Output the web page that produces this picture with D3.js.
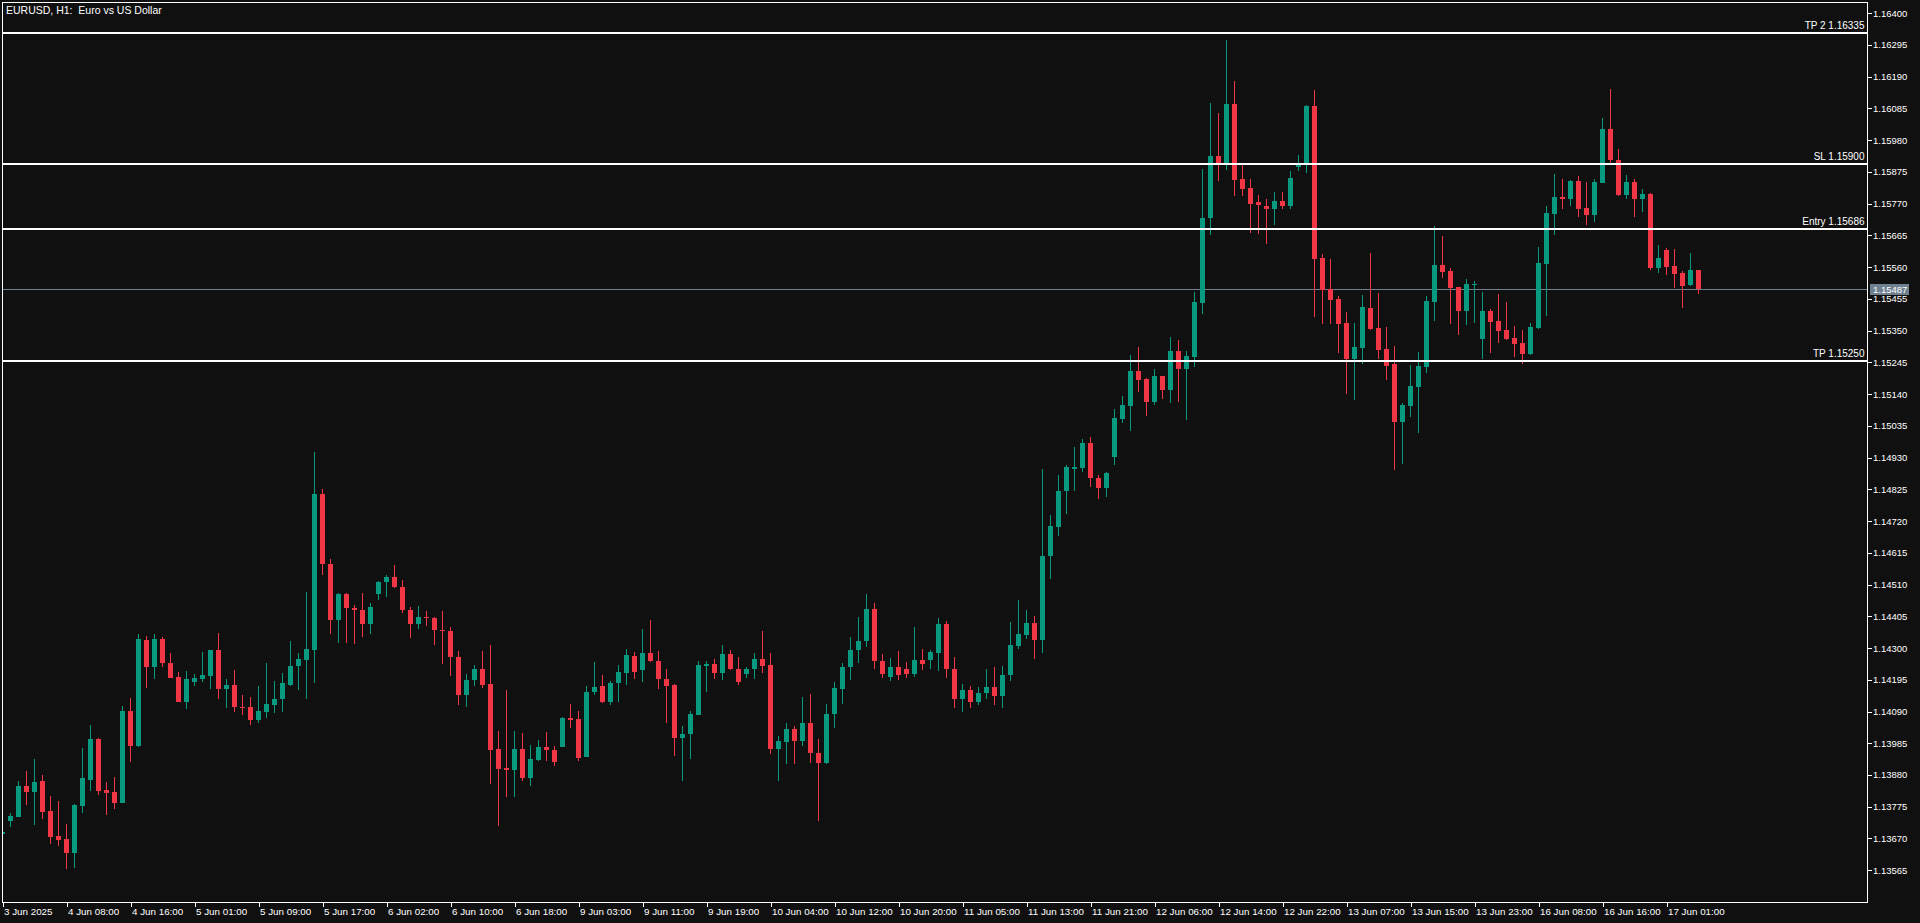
<!DOCTYPE html>
<html>
<head>
<meta charset="utf-8">
<script src="https://cdn.jsdelivr.net/npm/d3@7"></script>
<style>
  html, body { margin: 0; padding: 0; background: #101010; overflow: hidden; }
  svg { display: block; }
  text { font-family: "Liberation Sans", Arial, sans-serif; fill: #ffffff; }
</style>
</head>
<body>
<svg id="chart" width="1920" height="923"></svg>
<script>
// ---------------- DATA ----------------
const title = "EURUSD, H1:  Euro vs US Dollar";

const opens = [
1.13685,1.13729,1.13742,1.13843,1.13825,1.13860,1.13760,1.13678,1.13668,1.13622,
1.13778,1.13864,1.14000,1.13830,1.13824,1.13788,1.14092,1.13977,1.14327,1.14236,
1.14331,1.14251,1.14205,1.14123,1.14186,1.14199,1.14209,1.14294,1.14166,1.14178,
1.14106,1.14105,1.14063,1.14090,1.14113,1.14130,1.14179,1.14239,1.14262,1.14295,
1.14808,1.14579,1.14392,1.14480,1.14434,1.14427,1.14378,1.14478,1.14517,1.14536,
1.14503,1.14427,1.14378,1.14404,1.14400,1.14360,1.14357,1.14271,1.14143,1.14195,
1.14231,1.14181,1.13966,1.13903,1.13895,1.13966,1.13871,1.13931,1.13973,1.13963,
1.13974,1.14069,1.14066,1.13941,1.14153,1.14175,1.14120,1.14183,1.14219,1.14274,
1.14226,1.14284,1.14258,1.14198,1.14178,1.14004,1.14014,1.14079,1.14242,1.14248,
1.14219,1.14281,1.14231,1.14213,1.14229,1.14264,1.14245,1.13967,1.13990,1.14032,
1.13994,1.14052,1.13953,1.13921,1.14083,1.14166,1.14236,1.14292,1.14322,1.14430,
1.14258,1.14205,1.14238,1.14232,1.14215,1.14261,1.14261,1.14284,1.14380,1.14230,
1.14130,1.14160,1.14120,1.14150,1.14170,1.14140,1.14210,1.14307,1.14344,1.14384,
1.14327,1.14603,1.14702,1.14818,1.14891,1.14894,1.14977,1.14864,1.14828,1.14931,
1.15057,1.15100,1.15216,1.15189,1.15113,1.15199,1.15153,1.15282,1.15224,1.15262,
1.15442,1.15721,1.15929,1.15897,1.16101,1.15852,1.15822,1.15774,1.15763,1.15754,
1.15780,1.15761,1.15890,1.15897,1.16094,1.15591,1.15488,1.15455,1.15375,1.15256,
1.15293,1.15425,1.15358,1.15289,1.15239,1.15048,1.15101,1.15164,1.15230,1.15446,
1.15567,1.15547,1.15494,1.15416,1.15502,1.15323,1.15415,1.15382,1.15352,1.15325,
1.15309,1.15273,1.15359,1.15572,1.15735,1.15793,1.15784,1.15846,1.15756,1.15731,
1.15840,1.16017,1.15916,1.15800,1.15842,1.15784,1.15803,1.15558,1.15617,1.15564,
1.15541,1.15502,1.15549];

const highs = [
1.13700,1.13754,1.13860,1.13893,1.13933,1.13880,1.13810,1.13794,1.13717,1.13784,
1.13969,1.14047,1.14002,1.13857,1.13873,1.14109,1.14135,1.14347,1.14341,1.14347,
1.14337,1.14284,1.14221,1.14225,1.14215,1.14288,1.14294,1.14351,1.14199,1.14228,
1.14145,1.14138,1.14173,1.14252,1.14191,1.14218,1.14324,1.14284,1.14487,1.14947,
1.14825,1.14593,1.14482,1.14483,1.14443,1.14483,1.14450,1.14522,1.14543,1.14576,
1.14526,1.14437,1.14440,1.14424,1.14402,1.14424,1.14371,1.14291,1.14215,1.14245,
1.14291,1.14311,1.14026,1.14162,1.14026,1.14019,1.13979,1.13996,1.14022,1.13976,
1.14073,1.14115,1.14092,1.14175,1.14255,1.14211,1.14192,1.14245,1.14298,1.14288,
1.14364,1.14394,1.14291,1.14231,1.14181,1.14042,1.14092,1.14258,1.14258,1.14264,
1.14311,1.14294,1.14271,1.14238,1.14284,1.14357,1.14284,1.14009,1.14052,1.14042,
1.14138,1.14148,1.13999,1.14115,1.14188,1.14251,1.14337,1.14404,1.14480,1.14450,
1.14281,1.14268,1.14291,1.14255,1.14368,1.14298,1.14294,1.14399,1.14390,1.14271,
1.14180,1.14175,1.14170,1.14232,1.14238,1.14241,1.14387,1.14460,1.14427,1.14407,
1.14891,1.14739,1.14871,1.14904,1.14964,1.14990,1.14997,1.14871,1.14881,1.15090,
1.15133,1.15269,1.15295,1.15193,1.15222,1.15201,1.15329,1.15319,1.15282,1.15478,
1.15886,1.16104,1.16071,1.16313,1.16177,1.15900,1.15852,1.15799,1.15786,1.15810,
1.15810,1.15877,1.15932,1.16098,1.16147,1.15604,1.15587,1.15465,1.15411,1.15375,
1.15468,1.15607,1.15474,1.15362,1.15299,1.15110,1.15237,1.15279,1.15465,1.15696,
1.15663,1.15557,1.15495,1.15521,1.15514,1.15478,1.15421,1.15471,1.15445,1.15365,
1.15352,1.15375,1.15627,1.15763,1.15869,1.15852,1.15849,1.15862,1.15842,1.15852,
1.16054,1.16151,1.15952,1.15866,1.15852,1.15819,1.15805,1.15634,1.15624,1.15620,
1.15547,1.15607,1.15552];

const lows = [
1.13678,1.13709,1.13740,1.13781,1.13715,1.13735,1.13652,1.13646,1.13570,1.13573,
1.13755,1.13828,1.13815,1.13748,1.13768,1.13786,1.13924,1.13974,1.14169,1.14196,
1.14236,1.14200,1.14121,1.14097,1.14173,1.14186,1.14163,1.14133,1.14103,1.14090,
1.14079,1.14047,1.14053,1.14070,1.14086,1.14090,1.14173,1.14160,1.14133,1.14183,
1.14541,1.14345,1.14315,1.14318,1.14312,1.14335,1.14348,1.14458,1.14468,1.14498,
1.14415,1.14332,1.14362,1.14372,1.14309,1.14246,1.14209,1.14113,1.14106,1.14173,
1.14169,1.13851,1.13712,1.13808,1.13808,1.13861,1.13844,1.13927,1.13927,1.13911,
1.13971,1.14035,1.13927,1.13939,1.14143,1.14118,1.14110,1.14120,1.14179,1.14196,
1.14186,1.14254,1.14163,1.14053,1.13944,1.13861,1.13934,1.14077,1.14153,1.14196,
1.14193,1.14226,1.14179,1.14202,1.14199,1.14219,1.13951,1.13861,1.13915,1.13915,
1.13977,1.13921,1.13728,1.13915,1.14034,1.14116,1.14193,1.14249,1.14305,1.14230,
1.14200,1.14190,1.14195,1.14200,1.14205,1.14228,1.14230,1.14225,1.14200,1.14100,
1.14090,1.14100,1.14110,1.14130,1.14110,1.14100,1.14190,1.14298,1.14331,1.14264,
1.14284,1.14530,1.14672,1.14745,1.14821,1.14884,1.14832,1.14792,1.14798,1.14904,
1.15044,1.15017,1.15146,1.15067,1.15103,1.15124,1.15111,1.15114,1.15055,1.15230,
1.15405,1.15667,1.15844,1.15883,1.15797,1.15797,1.15674,1.15671,1.15638,1.15701,
1.15751,1.15754,1.15877,1.15870,1.15396,1.15372,1.15372,1.15277,1.15141,1.15121,
1.15240,1.15353,1.15257,1.15187,1.14889,1.14909,1.15064,1.15011,1.15210,1.15383,
1.15525,1.15372,1.15336,1.15369,1.15376,1.15257,1.15277,1.15310,1.15320,1.15263,
1.15241,1.15271,1.15354,1.15399,1.15668,1.15754,1.15761,1.15725,1.15698,1.15709,
1.15838,1.15897,1.15794,1.15784,1.15727,1.15741,1.15552,1.15542,1.15535,1.15492,
1.15426,1.15499,1.15472];

const closes = [
1.13691,1.13744,1.13843,1.13825,1.13857,1.13758,1.13675,1.13665,1.13622,1.13780,
1.13870,1.14000,1.13828,1.13821,1.13788,1.14092,1.13977,1.14331,1.14236,1.14331,
1.14249,1.14202,1.14123,1.14198,1.14201,1.14211,1.14292,1.14166,1.14178,1.14106,
1.14103,1.14063,1.14092,1.14115,1.14132,1.14185,1.14241,1.14264,1.14298,1.14808,
1.14577,1.14392,1.14480,1.14431,1.14425,1.14378,1.14437,1.14520,1.14536,1.14501,
1.14425,1.14378,1.14404,1.14398,1.14358,1.14355,1.14269,1.14143,1.14195,1.14231,
1.14179,1.13964,1.13901,1.13895,1.13966,1.13871,1.13933,1.13973,1.13961,1.13924,
1.14069,1.14063,1.13937,1.14155,1.14172,1.14120,1.14185,1.14222,1.14278,1.14222,
1.14284,1.14256,1.14196,1.14176,1.14004,1.14016,1.14082,1.14245,1.14248,1.14219,
1.14281,1.14229,1.14189,1.14231,1.14264,1.14242,1.13967,1.13993,1.14032,1.13994,
1.14052,1.13954,1.13921,1.14082,1.14168,1.14238,1.14294,1.14324,1.14430,1.14256,
1.14215,1.14238,1.14210,1.14215,1.14261,1.14248,1.14288,1.14380,1.14230,1.14130,
1.14160,1.14120,1.14150,1.14170,1.14140,1.14210,1.14311,1.14347,1.14384,1.14327,
1.14606,1.14705,1.14821,1.14898,1.14898,1.14977,1.14861,1.14828,1.14878,1.15060,
1.15103,1.15216,1.15186,1.15113,1.15199,1.15153,1.15282,1.15224,1.15266,1.15445,
1.15723,1.15929,1.15897,1.16101,1.15850,1.15820,1.15770,1.15764,1.15754,1.15780,
1.15761,1.15856,1.15899,1.16094,1.15588,1.15485,1.15452,1.15372,1.15256,1.15295,
1.15428,1.15356,1.15286,1.15234,1.15048,1.15103,1.15166,1.15232,1.15448,1.15567,
1.15545,1.15492,1.15416,1.15505,1.15505,1.15415,1.15379,1.15350,1.15323,1.15306,
1.15273,1.15362,1.15574,1.15740,1.15793,1.15784,1.15846,1.15754,1.15731,1.15842,
1.16017,1.15913,1.15800,1.15842,1.15784,1.15803,1.15558,1.15591,1.15561,1.15539,
1.15499,1.15549,1.15487];

const timeLabels = ["3 Jun 2025","4 Jun 08:00","4 Jun 16:00","5 Jun 01:00","5 Jun 09:00","5 Jun 17:00",
  "6 Jun 02:00","6 Jun 10:00","6 Jun 18:00","9 Jun 03:00","9 Jun 11:00","9 Jun 19:00","10 Jun 04:00",
  "10 Jun 12:00","10 Jun 20:00","11 Jun 05:00","11 Jun 13:00","11 Jun 21:00","12 Jun 06:00","12 Jun 14:00",
  "12 Jun 22:00","13 Jun 07:00","13 Jun 15:00","13 Jun 23:00","16 Jun 08:00","16 Jun 16:00","17 Jun 01:00"];
const timeLabelBars = [0,8,16,24,32,40,48,56,64,72,80,88,96,104,112,120,128,136,144,152,160,168,176,184,192,200,208];

const priceTicks = [1.16400,1.16295,1.16190,1.16085,1.15980,1.15875,1.15770,1.15665,1.15560,1.15455,
  1.15350,1.15245,1.15140,1.15035,1.14930,1.14825,1.14720,1.14615,1.14510,1.14405,1.14300,1.14195,
  1.14090,1.13985,1.13880,1.13775,1.13670,1.13565];

const levelNames  = ["TP 2", "SL", "Entry", "TP"];
const levelPrices = [1.16335, 1.15900, 1.15686, 1.15250];
const currentPrice = 1.15487;

// ---------------- LAYOUT ----------------
const W = 1920, H = 923;
const plot = { left: 2.5, top: 2.5, right: 1867.5, bottom: 902.5 };
const barSpacing = 8, bodyW = 5;
const UP = "#089981", DOWN = "#f23645", FG = "#ffffff", CUR = "#6f8090";

const svg = d3.select("#chart");
svg.append("rect").attr("width", W).attr("height", H).attr("fill", "#101010");

const x = d3.scaleLinear().domain([0, 1]).range([plot.left, plot.left + barSpacing]);
const y = d3.scaleLinear().domain([1.13565, 1.16335]).range([870.2, 32.9]);

const defs = svg.append("defs");
defs.append("clipPath").attr("id", "plotclip").append("rect")
  .attr("x", plot.left + 0.5).attr("y", plot.top + 0.5)
  .attr("width", plot.right - plot.left - 1).attr("height", plot.bottom - plot.top - 1);

const g = svg.append("g").attr("clip-path", "url(#plotclip)").attr("shape-rendering", "crispEdges");

const candles = opens.map((o, i) => ({ i, o, h: highs[i], l: lows[i], c: closes[i] }));

// current price line
g.append("line")
  .attr("x1", plot.left).attr("x2", plot.right)
  .attr("y1", Math.round(y(currentPrice)) + 0.5).attr("y2", Math.round(y(currentPrice)) + 0.5)
  .attr("stroke", CUR).attr("stroke-width", 1);

// wicks
g.selectAll("rect.wick").data(candles).join("rect")
  .attr("class", "wick")
  .attr("x", d => Math.round(x(d.i) - 0.5))
  .attr("width", 1)
  .attr("y", d => Math.round(y(d.h)))
  .attr("height", d => Math.max(1, Math.round(y(d.l)) - Math.round(y(d.h))))
  .attr("fill", d => d.c >= d.o ? UP : DOWN);

// bodies
g.selectAll("rect.body").data(candles).join("rect")
  .attr("class", "body")
  .attr("x", d => Math.round(x(d.i) - bodyW / 2))
  .attr("width", bodyW)
  .attr("y", d => Math.round(y(Math.max(d.o, d.c))))
  .attr("height", d => Math.max(1, Math.round(y(Math.min(d.o, d.c))) - Math.round(y(Math.max(d.o, d.c)))))
  .attr("fill", d => d.c >= d.o ? UP : DOWN);

// level lines
const levels = levelNames.map((n, k) => ({ n, p: levelPrices[k] }));
g.selectAll("line.level").data(levels).join("line")
  .attr("class", "level")
  .attr("x1", plot.left).attr("x2", plot.right)
  .attr("y1", d => Math.round(y(d.p))).attr("y2", d => Math.round(y(d.p)))
  .attr("stroke", FG).attr("stroke-width", 2);

svg.selectAll("text.level").data(levels).join("text")
  .attr("class", "level")
  .attr("x", plot.right - 3)
  .attr("y", d => Math.round(y(d.p)) - 4)
  .attr("text-anchor", "end")
  .attr("font-size", "10px")
  .text(d => `${d.n} ${d.p.toFixed(5)}`);

// frame
svg.append("rect")
  .attr("x", plot.left).attr("y", plot.top)
  .attr("width", plot.right - plot.left).attr("height", plot.bottom - plot.top)
  .attr("fill", "none").attr("stroke", FG).attr("stroke-width", 1)
  .attr("shape-rendering", "crispEdges");

// title
svg.append("text")
  .attr("x", 6).attr("y", 14)
  .attr("font-size", "10.5px")
  .style("white-space", "pre")
  .text(title);

// price axis
const yAxisG = svg.append("g").attr("shape-rendering", "crispEdges");
yAxisG.selectAll("line").data(priceTicks).join("line")
  .attr("x1", plot.right).attr("x2", plot.right + 4)
  .attr("y1", d => Math.round(y(d)) + 0.5).attr("y2", d => Math.round(y(d)) + 0.5)
  .attr("stroke", FG);
svg.append("g").selectAll("text").data(priceTicks).join("text")
  .attr("x", plot.right + 5.5)
  .attr("y", d => y(d) + 3.5)
  .attr("font-size", "9.5px")
  .text(d => d.toFixed(5));

// current price tag
const cy = Math.round(y(currentPrice)) + 0.5;
svg.append("rect")
  .attr("x", plot.right + 2.5).attr("y", cy - 5.5)
  .attr("width", 39).attr("height", 11)
  .attr("fill", CUR).attr("shape-rendering", "crispEdges");
svg.append("text")
  .attr("x", plot.right + 5.5).attr("y", cy + 3.5)
  .attr("font-size", "9.5px").attr("fill", "#f0f0f0")
  .text(currentPrice.toFixed(5));

// time axis
const tAxis = svg.append("g");
tAxis.selectAll("line").data(timeLabelBars).join("line")
  .attr("x1", d => Math.round(x(d)) + 0.5).attr("x2", d => Math.round(x(d)) + 0.5)
  .attr("y1", plot.bottom).attr("y2", plot.bottom + 4)
  .attr("stroke", FG).attr("shape-rendering", "crispEdges");
tAxis.selectAll("text").data(timeLabelBars).join("text")
  .attr("x", d => Math.round(x(d)) + 1)
  .attr("y", 915)
  .attr("font-size", "9.8px")
  .text((d, k) => timeLabels[k]);
</script>
</body>
</html>
